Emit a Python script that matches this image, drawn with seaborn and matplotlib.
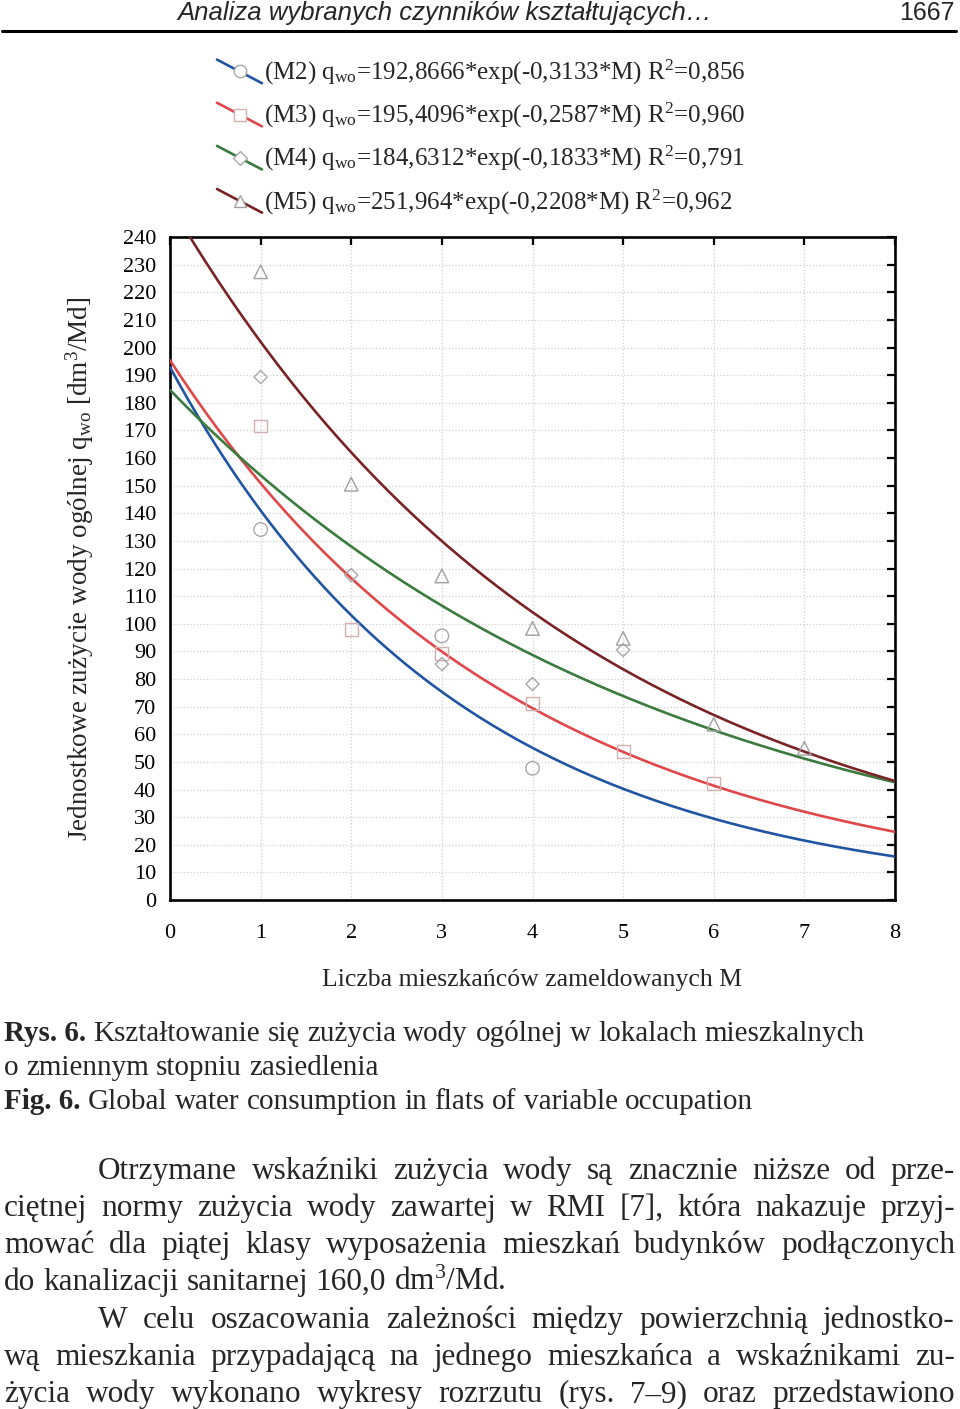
import numpy as np
import pandas as pd
import matplotlib
matplotlib.use("Agg")
import matplotlib.pyplot as plt
import seaborn as sns
from matplotlib.lines import Line2D
from matplotlib.legend_handler import HandlerLine2D

# ---------------- data ----------------
series = ["M2", "M3", "M4", "M5"]
coef_a = [192.8666, 195.4096, 184.6312, 251.964]
coef_b = [-0.3133, -0.2587, -0.1833, -0.2208]
a_text = ["192,8666", "195,4096", "184,6312", "251,964"]
b_text = ["-0,3133", "-0,2587", "-0,1833", "-0,2208"]
r2_text = ["0,856", "0,960", "0,791", "0,962"]

m2_x = [1, 3, 4]
m2_y = [134.1, 95.6, 47.7]
m3_x = [1, 2, 3, 4, 5, 6]
m3_y = [171.6, 98.0, 89.3, 71.2, 53.7, 42.2]
m4_x = [1, 2, 3, 4, 5]
m4_y = [189.3, 117.6, 85.4, 78.2, 90.5]
m5_x = [1, 2, 3, 4, 5, 6, 7]
m5_y = [227.4, 150.5, 117.3, 98.3, 94.7, 63.6, 54.9]

x_ticks = list(range(0, 9))
y_ticks = list(range(0, 241, 10))

x_label = "Liczba mieszkańców zameldowanych M"
y_label = r"Jednostkowe zużycie wody ogólnej q$_{\mathregular{wo}}$ [dm$^{\mathregular{3}}$/Md]"
header = "Analiza wybranych czynników kształtujących…"
page_no = "1667"

caption_lines = [
    ("Rys. 6.", "Kształtowanie się zużycia wody ogólnej w lokalach mieszkalnych"),
    ("", "o zmiennym stopniu zasiedlenia"),
    ("Fig. 6.", "Global water consumption in flats of variable occupation"),
]
body_lines = [
    ("Otrzymane wskaźniki zużycia wody są znacznie niższe od prze-", True, True),
    ("ciętnej normy zużycia wody zawartej w RMI [7], która nakazuje przyj-", False, True),
    ("mować dla piątej klasy wyposażenia mieszkań budynków podłączonych", False, True),
    (r"do kanalizacji sanitarnej 160,0 dm$^{\mathregular{3}}$/Md.", False, False),
    ("W celu oszacowania zależności między powierzchnią jednostko-", True, True),
    ("wą mieszkania przypadającą na jednego mieszkańca a wskaźnikami zu-", False, True),
    ("życia wody wykonano wykresy rozrzutu (rys. 7–9) oraz przedstawiono", False, True),
]

# ---------------- style ----------------
sns.set_theme(style="white")
plt.rcParams["font.family"] = ["Liberation Serif", "DejaVu Serif"]
plt.rcParams["mathtext.fontset"] = "custom"
plt.rcParams["mathtext.rm"] = "Liberation Serif"
plt.rcParams["mathtext.it"] = "Liberation Serif:italic"
plt.rcParams["mathtext.bf"] = "Liberation Serif:bold"

W, H = 960, 1409
fig = plt.figure(figsize=(W / 100, H / 100), dpi=100)
fig.patch.set_facecolor("white")


def fx(x):
    return x / W


def fy(y):
    return 1 - y / H


ax_l, ax_r, ax_t, ax_b = 170, 895, 237, 900
ax = fig.add_axes([fx(ax_l), fy(ax_b), (ax_r - ax_l) / W, (ax_b - ax_t) / H])
ax.set_facecolor("white")

line_colors = ["#2155a3", "#e0474a", "#3b7b3e", "#7a2327"]
markers = ["o", "s", "D", "^"]
marker_sizes = [95, 85, 45, 95]
marker_edges = ["#a8a8a8", "#d2b0b0", "#a8a8a8", "#a0a0a0"]

# fitted curves from the legend coefficients
xs = np.linspace(0, 8, 241)
curve_df = pd.concat(
    [pd.DataFrame({"M": xs, "q": a * np.exp(b * xs), "series": s})
     for s, a, b in zip(series, coef_a, coef_b)],
    ignore_index=True,
)
sns.lineplot(data=curve_df, x="M", y="q", hue="series", palette=line_colors,
             linewidth=1.9, legend=False, ax=ax, zorder=3)

pts = [(m2_x, m2_y), (m3_x, m3_y), (m4_x, m4_y), (m5_x, m5_y)]
for (px, py), mk, ms, me in zip(pts, markers, marker_sizes, marker_edges):
    sns.scatterplot(x=px, y=py, marker=mk, s=ms, facecolor="none",
                    edgecolor=me, linewidth=1.0, ax=ax, zorder=4)

ax.set_xlim(0, 8)
ax.set_ylim(0, 240)
ax.set_xticks(x_ticks)
ax.set_yticks(y_ticks)
ax.set_xticklabels([str(v) for v in x_ticks])
ax.set_yticklabels([str(v) for v in y_ticks])
ax.grid(True, linestyle=":", color="#d0d0d0", linewidth=0.9)
ax.set_axisbelow(True)
for sp in ax.spines.values():
    sp.set_visible(True)
    sp.set_color("black")
    sp.set_linewidth(1.9)
ax.tick_params(axis="both", direction="in", length=6, width=1.6, colors="black",
               top=True, right=True, labelsize=16)
ax.tick_params(axis="y", pad=10)
ax.tick_params(axis="x", pad=17)

ax.set_xlabel(x_label, fontsize=18.5)
ax.set_ylabel(y_label, fontsize=19.5)
ax.xaxis.set_label_coords(0.5, (ax_b - 980) / (ax_b - ax_t))
ax.xaxis.label.set_va("center")
ax.yaxis.set_label_coords((80 - ax_l) / (ax_r - ax_l), 0.5)
ax.yaxis.label.set_va("center")


# ---------------- legend ----------------
class DiagHandler(HandlerLine2D):
    def create_artists(self, legend, orig_handle, xdescent, ydescent,
                       width, height, fontsize, trans):
        x0, x1 = -xdescent, -xdescent + width
        y0, y1 = -ydescent + height * 1.15, -ydescent - height * 0.2
        ln = Line2D([x0, x1], [y0, y1], color=orig_handle.get_color(),
                    linewidth=orig_handle.get_linewidth())
        mk = Line2D([(x0 + x1) / 2], [(y0 + y1) / 2], linestyle="none",
                    marker=orig_handle.get_marker(),
                    markersize=orig_handle.get_markersize(),
                    markerfacecolor="white",
                    markeredgecolor=orig_handle.get_markeredgecolor(),
                    markeredgewidth=1.0)
        ln.set_transform(trans)
        mk.set_transform(trans)
        return [ln, mk]


handles, labels = [], []
leg_ms = [9, 9, 7, 9]
for s, a, b, r, c, mk, ms, me in zip(series, a_text, b_text, r2_text,
                                     line_colors, markers, leg_ms, marker_edges):
    handles.append(Line2D([], [], color=c, linewidth=1.9, marker=mk,
                          markersize=ms, markeredgecolor=me))
    labels.append(f"({s}) q$_{{\\mathregular{{wo}}}}$={a}*exp({b}*M) "
                  f"R$^{{\\mathregular{{2}}}}$={r}")

leg = fig.legend(handles, labels, loc="upper left",
                 bbox_to_anchor=(fx(217), fy(58)), bbox_transform=fig.transFigure,
                 frameon=False, fontsize=18, handlelength=1.8, handletextpad=0.1,
                 labelspacing=0.56, borderpad=0, borderaxespad=0,
                 handler_map={Line2D: DiagHandler()})

# ---------------- page text ----------------
fig.text(fx(445), fy(13), header, ha="center", va="center", fontsize=18.5,
         family=["Liberation Sans", "DejaVu Sans"], style="italic")
fig.text(fx(955), fy(13), page_no, ha="right", va="center", fontsize=18,
         family=["Liberation Sans", "DejaVu Sans"])
fig.add_artist(Line2D([fx(2), fx(956)], [fy(31), fy(31)], color="black",
                      linewidth=2.2, transform=fig.transFigure))

renderer = fig.canvas.get_renderer()


def word_width(t):
    return t.get_window_extent(renderer).width


def place_words(words, y_base, x0, x1, fs, justify, weights=None):
    if weights is None:
        weights = ["normal"] * len(words)
    ts = [fig.text(0, fy(y_base), w, fontsize=fs, ha="left", va="baseline",
                   fontweight=wt) for w, wt in zip(words, weights)]
    widths = [word_width(t) for t in ts]
    space = 0.25 * fs * 100 / 72
    if justify and len(words) > 1:
        gap = (x1 - x0 - sum(widths)) / (len(words) - 1)
    else:
        gap = space
    x = x0
    for t, w in zip(ts, widths):
        t.set_x(fx(x))
        x += w + gap


cap_fs = 21
cap_base = [1041, 1075, 1109]
for (bold, rest), yb in zip(caption_lines, cap_base):
    words, weights = [], []
    if bold:
        words.append(bold)
        weights.append("bold")
    words += rest.split(" ")
    weights += ["normal"] * len(rest.split(" "))
    place_words(words, yb, 4, 900, cap_fs, False, weights)

body_fs = 22.5
body_base = [1179, 1216, 1253, 1290, 1328, 1365, 1402]
for (txt, indent, just), yb in zip(body_lines, body_base):
    x0 = 98 if indent else 4
    place_words(txt.split(" "), yb, x0, 955, body_fs, just)

fig.savefig("out.png", dpi=100, facecolor="white")
